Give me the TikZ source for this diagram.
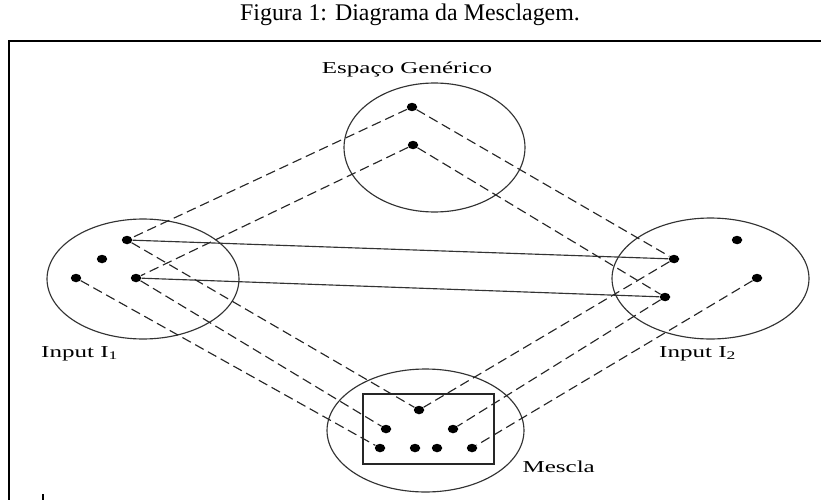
\documentclass[tikz,border=0pt]{standalone}
\usepackage{fontspec}
\setmainfont{Liberation Serif}
\usepackage{tikz}
\usetikzlibrary{shapes.geometric}

\begin{document}
\begin{tikzpicture}[
      x=0.02cm, y=-0.02cm,
      space/.style={draw=black!80, line width=0.65pt, ellipse, inner sep=0pt},
      dot/.style={ellipse, fill=black, inner sep=0pt, minimum width=0.21cm, minimum height=0.17cm},
      label/.style={font=\fontsize{9.5}{11}\selectfont, xscale=1.5, transform shape, inner sep=0pt},
      map/.style={draw=black!85, line width=0.65pt, dash pattern=on 5.5pt off 2.8pt},
      link/.style={draw=black!80, line width=0.65pt},
    ]
    \useasboundingbox (0,0) rectangle (821,500);

    % Title and frame
    \node[font=\fontsize{13.6}{16}\selectfont] (title) at (410,15) {Figura 1: Diagrama da Mesclagem.};
    \draw[line width=1.1pt] (821,41) -- (9,41) -- (9,500);
    \draw[line width=1.2pt] (43,494) -- (43,500);

    % Espaco Generico
    \node[space, minimum width=3.62cm, minimum height=2.58cm] (gen) at (434.5,147.5) {};
    \node[label] (genlbl) at (407,69) {Espaço Genérico};
    \node[dot] (g1) at (412,107) {};
    \node[dot] (g2) at (413,145) {};

    % Input I1
    \node[space, minimum width=3.84cm, minimum height=2.40cm] (in1) at (143,279) {};
    \node[label] (in1lbl) at (80,354) {Input I\textsubscript{1}};
    \node[dot] (a1) at (127,240) {};
    \node[dot] (a2) at (102,259) {};
    \node[dot] (a3) at (76,278) {};
    \node[dot] (a4) at (136,278) {};

    % Input I2
    \node[space, minimum width=3.94cm, minimum height=2.42cm] (in2) at (710.5,278.5) {};
    \node[label] (in2lbl) at (698,354) {Input I\textsubscript{2}};
    \node[dot] (b1) at (737,240) {};
    \node[dot] (b2) at (674,259) {};
    \node[dot] (b3) at (757,278) {};
    \node[dot] (b4) at (665,297) {};

    % Mescla
    \node[space, minimum width=3.94cm, minimum height=2.46cm] (mes) at (425.5,430.5) {};
    \node[draw=black!85, line width=0.75pt, minimum width=2.62cm, minimum height=1.40cm] (box) at (428.5,429) {};
    \node[label, anchor=west] (meslbl) at (522,467) {Mescla};
    \node[dot] (m1) at (419,410) {};
    \node[dot] (m2) at (386,429) {};
    \node[dot] (m3) at (453,429) {};
    \node[dot] (m4) at (380,448) {};
    \node[dot] (m5) at (415,448) {};
    \node[dot] (m6) at (437,448) {};
    \node[dot] (m7) at (472,448) {};

    % Cross-space links
    \draw[link] (a1) -- (b2);
    \draw[link] (a4) -- (b4);

    % Mappings
    \draw[map] (g1) -- (a1);
    \draw[map] (g2) -- (a4);
    \draw[map] (g1) -- (b2);
    \draw[map] (g2) -- (b4);
    \draw[map] (a1) -- (m1);
    \draw[map] (a4) -- (m2);
    \draw[map] (a3) -- (m4);
    \draw[map] (b2) -- (m1);
    \draw[map] (b4) -- (m3);
    \draw[map] (b3) -- (m7);

  \end{tikzpicture}
\end{document}
